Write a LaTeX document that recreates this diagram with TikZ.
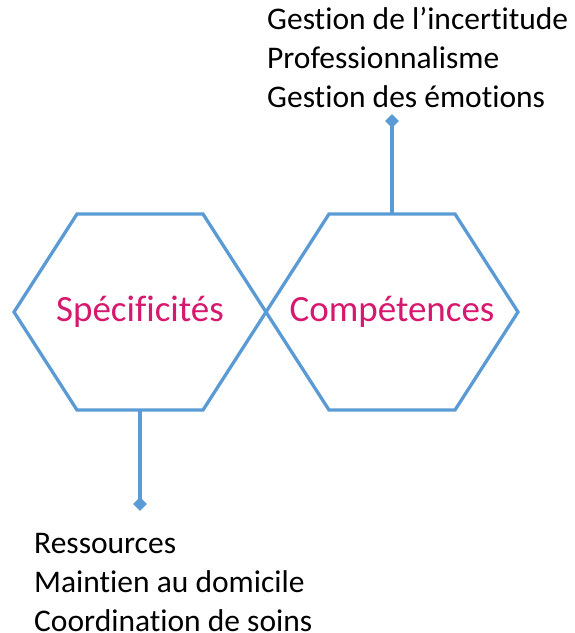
\documentclass[tikz,border=0pt]{standalone}
\usepackage{fontspec}
\setmainfont{Carlito}[Ligatures=NoCommon]
\usetikzlibrary{shapes.geometric,positioning}
\definecolor{hexblue}{RGB}{91,155,213}
\definecolor{hexpink}{RGB}{214,24,110}

\begin{document}
\begin{tikzpicture}[x=1pt, y=-1pt,
  hexlabel/.style={inner sep=0pt, text=hexpink, font=\fontsize{37}{44}\selectfont},
  hexline/.style={draw=hexblue, line width=3.3pt, line join=miter},
  tip/.style={fill=hexblue, diamond, minimum size=14pt, inner sep=0pt},
  stem/.style={draw=hexblue, line width=3.3pt},
  list/.style={align=left, inner sep=0pt, font=\fontsize{31.5}{39}\selectfont}]
  \useasboundingbox (0,0) rectangle (574,633);
  % the two hexagons
  \node (spec) [hexlabel] at (140,312) {Spécificités};
  \node (comp) [hexlabel] at (392,312) {Compétences};
  \foreach \h in {spec,comp}
    \draw[hexline] (\h.center) ++(-126,0) -- ++(63,-98)
      -- node[coordinate] (\h-n) {} ++(126,0) -- ++(63,98) -- ++(-63,98)
      -- node[coordinate] (\h-s) {} ++(-126,0) -- cycle;
  % stems with their diamond ends
  \node (toptip) [tip] at (392,121) {};
  \node (bottip) [tip] at (140,504) {};
  \draw[stem] (comp-n) -- (toptip.center);
  \draw[stem] (spec-s) -- (bottip.center);
  % lists
  \node (skills) [list, anchor=base west] at (267,107)
    {Gestion de l’incertitude\\Professionnalisme\\Gestion des émotions};
  \node (specs) [list, anchor=base west] at (34,631)
    {Ressources\\Maintien au domicile\\Coordination de soins};
\end{tikzpicture}
\end{document}
